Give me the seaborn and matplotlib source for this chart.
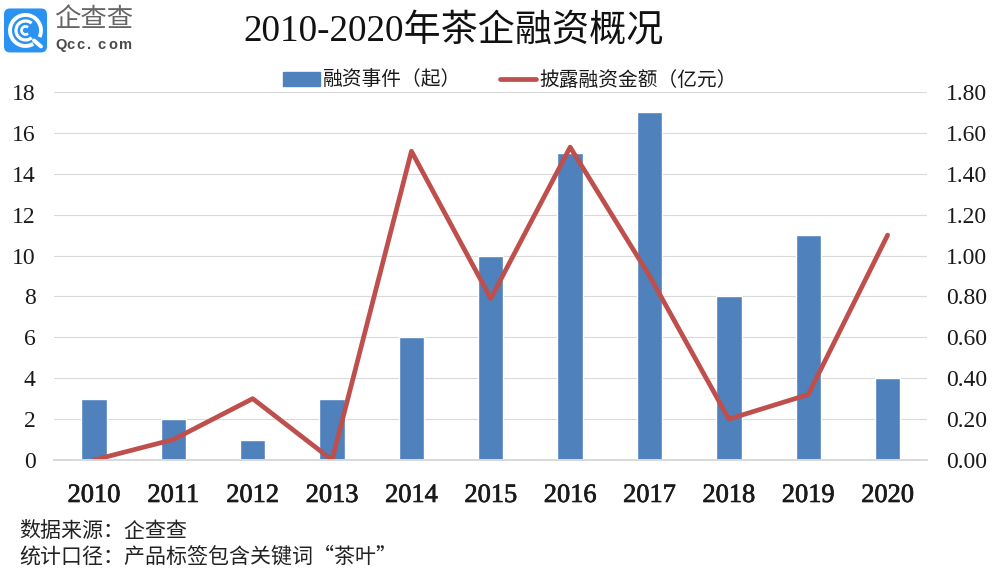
import pandas as pd
import matplotlib
matplotlib.use('Agg')
import matplotlib.pyplot as plt
import matplotlib.patches as mpatches
import matplotlib.patheffects as pe
import seaborn as sns

years = ['2010', '2011', '2012', '2013', '2014', '2015', '2016', '2017', '2018', '2019', '2020']
events = [3, 2, 1, 3, 6, 10, 15, 17, 8, 11, 4]
amounts = [0.0, 0.10, 0.30, 0.0, 1.51, 0.79, 1.53, 0.90, 0.20, 0.32, 1.10]
left_ticks = [0, 2, 4, 6, 8, 10, 12, 14, 16, 18]
right_ticks = [0.0, 0.2, 0.4, 0.6, 0.8, 1.0, 1.2, 1.4, 1.6, 1.8]

sns.set_theme(style='white')
plt.rcParams['font.family'] = ['Noto Sans CJK SC', 'DejaVu Sans']
serif = ['Liberation Serif', 'Noto Sans CJK SC']
ink = '#1A1A1A'

df = pd.DataFrame({'year': years, 'events': events, 'amounts': amounts})

fig = plt.figure(figsize=(10, 5.81), dpi=100)
ax = fig.add_axes([0.0543, 0.2083, 0.873, 0.6334])

# 柱状图
sns.barplot(data=df, x='year', y='events', color='#4F81BD', saturation=1, width=0.32, ax=ax)
ax.set_ylim(0, 18)
ax.set_xlim(-0.5, 10.5)
ax.set_yticks(left_ticks)
ax.set_xlabel('')
ax.set_ylabel('')
ax.yaxis.grid(True, color='#D9D9D9', lw=0.8)
ax.set_axisbelow(True)
ax.tick_params(axis='x', length=0, pad=18, colors=ink)
ax.tick_params(axis='y', length=0, pad=13.5, colors=ink)
for t in ax.get_xticklabels():
    t.set_family(serif)
    t.set_fontsize(19)
    t.set_path_effects([pe.withStroke(linewidth=0.5, foreground=ink)])
for t in ax.get_yticklabels():
    t.set_family(serif)
    t.set_fontsize(17)

# 折线图，右轴
ax2 = ax.twinx()
sns.lineplot(data=df, x='year', y='amounts', color='#BE4F4C', lw=3.4, ax=ax2, sort=False)
ax2.set_ylim(0, 1.8)
ax2.set_yticks(right_ticks)
ax2.set_yticklabels([f'{v:.2f}' for v in right_ticks])
ax2.set_ylabel('')
ax2.set_xlabel('')
ax2.tick_params(axis='y', length=0, pad=13.5, colors=ink)
for t in ax2.get_yticklabels():
    t.set_family(serif)
    t.set_fontsize(17)

for a in (ax, ax2):
    for name in ('top', 'left', 'right'):
        a.spines[name].set_visible(False)
    a.spines['bottom'].set_color('#D9D9D9')

# 图例
bar_handle = mpatches.Patch(color='#4F81BD', label='融资事件（起）')
line_handle = plt.Line2D([], [], color='#BE4F4C', lw=3.4, label='披露融资金额（亿元）')
fig.legend(handles=[bar_handle, line_handle], loc='center', bbox_to_anchor=(0.510, 0.862),
           ncol=2, frameon=False, fontsize=14.2, handlelength=1.85, columnspacing=1.95,
           handletextpad=0.15, labelcolor=ink)

# 标题和说明
fig.text(0.4535, 0.945, '2010-2020年茶企融资概况', ha='center', va='center', fontsize=26.7,
         color='#111111', family=serif)
fig.text(0.019, 0.086, '数据来源：企查查', ha='left', va='center', fontsize=15.1, color='#222222')
fig.text(0.019, 0.042, '统计口径：产品标签包含关键词“茶叶”', ha='left', va='center', fontsize=15.1, color='#222222')

# 标志
logo = fig.add_axes([0.002, 0.908, 0.047, 0.0809])
logo.set_xlim(0, 47)
logo.set_ylim(0, 47)
logo.axis('off')
logo.add_patch(mpatches.FancyBboxPatch((2, 1), 43, 44, boxstyle='round,pad=0,rounding_size=6',
                                       facecolor='#2A93F2', edgecolor='none'))
for size, lw in ((31, 2.8), (19, 2.3), (8, 1.9)):
    logo.add_patch(mpatches.Arc((23.5, 23), size, size, theta1=50 if size < 31 else -25,
                                theta2=310 if size < 31 else 300, color='white', lw=lw))
logo.plot([32, 39], [13, 7], color='white', lw=2.8, solid_capstyle='round')

fig.text(0.054, 0.966, '企查查', ha='left', va='center', fontsize=19, color='#666666')
for i, ch in enumerate('Qcc.com'):
    fig.text(0.0555 + i * 0.0105, 0.923, ch, ha='left', va='center', fontsize=10.5,
             color='#4A4A4A', fontweight='bold', family='Liberation Sans')

fig.savefig('out.png', dpi=100)
